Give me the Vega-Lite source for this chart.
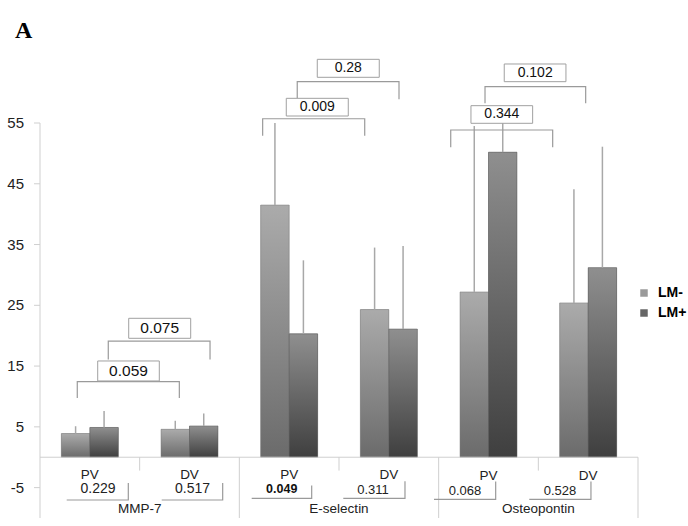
{
  "$schema": "https://vega.github.io/schema/vega-lite/v6.json",
  "width": 598,
  "height": 395,
  "autosize": {"type": "none"},
  "padding": {"left": 40, "top": 123, "right": 50, "bottom": 8},
  "background": "white",
  "config": {"view": {"stroke": null}, "font": "Liberation Sans"},
  "title": {"text": "A", "anchor": "start", "frame": "group", "font": "Liberation Serif", "fontSize": 24, "fontWeight": "bold", "color": "#000000", "dx": -25, "offset": -3, "baseline": "alphabetic"},
  "datasets": {
    "bars": [
      {"cat": "MMP-7 PV", "series": "LM-", "value": 3.9, "err": 5.1},
      {"cat": "MMP-7 PV", "series": "LM+", "value": 4.9, "err": 7.6},
      {"cat": "MMP-7 DV", "series": "LM-", "value": 4.6, "err": 6.0},
      {"cat": "MMP-7 DV", "series": "LM+", "value": 5.15, "err": 7.2},
      {"cat": "E-selectin PV", "series": "LM-", "value": 41.5, "err": 55.0},
      {"cat": "E-selectin PV", "series": "LM+", "value": 20.3, "err": 32.4},
      {"cat": "E-selectin DV", "series": "LM-", "value": 24.3, "err": 34.5},
      {"cat": "E-selectin DV", "series": "LM+", "value": 21.1, "err": 34.75},
      {"cat": "Osteopontin PV", "series": "LM-", "value": 27.2, "err": 54.5},
      {"cat": "Osteopontin PV", "series": "LM+", "value": 50.2, "err": 55.0},
      {"cat": "Osteopontin DV", "series": "LM-", "value": 25.4, "err": 44.1},
      {"cat": "Osteopontin DV", "series": "LM+", "value": 31.2, "err": 51.1}
    ],
    "yticks": [{"v": -5, "label": "-5"}, {"v": 5, "label": "5"}, {"v": 15, "label": "15"}, {"v": 25, "label": "25"}, {"v": 35, "label": "35"}, {"v": 45, "label": "45"}, {"v": 55, "label": "55"}],
    "axislines": [
      {"x": 0, "x2": 0, "y": 55, "y2": -10},
      {"x": 0, "x2": 6, "y": 0, "y2": 0},
      {"x": 1, "x2": 1, "y": 0, "y2": -2.2},
      {"x": 3, "x2": 3, "y": 0, "y2": -2.2},
      {"x": 5, "x2": 5, "y": 0, "y2": -2.2},
      {"x": 2, "x2": 2, "y": 0, "y2": -10},
      {"x": 4, "x2": 4, "y": 0, "y2": -10},
      {"x": 6, "x2": 6, "y": 0, "y2": -10}
    ],
    "catlabels": [
      {"label": "PV", "x": 0.5, "y": -2.9},
      {"label": "DV", "x": 1.5, "y": -2.9},
      {"label": "PV", "x": 2.5, "y": -2.95},
      {"label": "DV", "x": 3.5, "y": -2.95},
      {"label": "PV", "x": 4.5, "y": -3.05},
      {"label": "DV", "x": 5.5, "y": -3.05},
      {"label": "MMP-7", "x": 1, "y": -8.55},
      {"label": "E-selectin", "x": 3, "y": -8.55},
      {"label": "Osteopontin", "x": 5, "y": -8.55}
    ],
    "brackets": [
      {"id": "b059", "o": 1, "x": 0.374, "y": 9.75},
      {"id": "b059", "o": 2, "x": 0.374, "y": 12.45},
      {"id": "b059", "o": 3, "x": 1.398, "y": 12.45},
      {"id": "b059", "o": 4, "x": 1.398, "y": 9.75},
      {"id": "b075", "o": 1, "x": 0.685, "y": 16.1},
      {"id": "b075", "o": 2, "x": 0.685, "y": 19.1},
      {"id": "b075", "o": 3, "x": 1.706, "y": 19.1},
      {"id": "b075", "o": 4, "x": 1.706, "y": 16.1},
      {"id": "b009", "o": 1, "x": 2.234, "y": 52.9},
      {"id": "b009", "o": 2, "x": 2.234, "y": 55.7},
      {"id": "b009", "o": 3, "x": 3.258, "y": 55.7},
      {"id": "b009", "o": 4, "x": 3.258, "y": 52.9},
      {"id": "b028", "o": 1, "x": 2.581, "y": 59.06},
      {"id": "b028", "o": 2, "x": 2.581, "y": 61.8},
      {"id": "b028", "o": 3, "x": 3.602, "y": 61.8},
      {"id": "b028", "o": 4, "x": 3.602, "y": 58.9},
      {"id": "b344", "o": 1, "x": 4.121, "y": 51.0},
      {"id": "b344", "o": 2, "x": 4.121, "y": 53.85},
      {"id": "b344", "o": 3, "x": 5.144, "y": 53.85},
      {"id": "b344", "o": 4, "x": 5.144, "y": 51.0},
      {"id": "b102", "o": 1, "x": 4.465, "y": 58.24},
      {"id": "b102", "o": 2, "x": 4.465, "y": 60.97},
      {"id": "b102", "o": 3, "x": 5.475, "y": 60.97},
      {"id": "b102", "o": 4, "x": 5.475, "y": 58.24},
      {"id": "u229", "o": 1, "x": 0.268, "y": -7.04},
      {"id": "u229", "o": 2, "x": 0.886, "y": -7.04},
      {"id": "u229", "o": 3, "x": 0.886, "y": -4.24},
      {"id": "u517", "o": 1, "x": 1.221, "y": -7.04},
      {"id": "u517", "o": 2, "x": 1.833, "y": -7.04},
      {"id": "u517", "o": 3, "x": 1.833, "y": -4.24},
      {"id": "u049", "o": 1, "x": 2.124, "y": -6.76},
      {"id": "u049", "o": 2, "x": 2.726, "y": -6.76},
      {"id": "u049", "o": 3, "x": 2.726, "y": -4.65},
      {"id": "u311", "o": 1, "x": 3.043, "y": -6.76},
      {"id": "u311", "o": 2, "x": 3.662, "y": -6.76},
      {"id": "u311", "o": 3, "x": 3.662, "y": -3.95},
      {"id": "u068", "o": 1, "x": 3.953, "y": -6.92},
      {"id": "u068", "o": 2, "x": 4.572, "y": -6.92},
      {"id": "u068", "o": 3, "x": 4.572, "y": -4.0},
      {"id": "u528", "o": 1, "x": 4.909, "y": -6.92},
      {"id": "u528", "o": 2, "x": 5.528, "y": -6.92},
      {"id": "u528", "o": 3, "x": 5.528, "y": -4.0}
    ],
    "boxes": [
      {"panel": "MMP-7", "label": "0.059", "x": 0.579, "x2": 1.197, "y": 12.55, "y2": 15.84, "tx": 0.888, "ty": 14.2},
      {"panel": "MMP-7", "label": "0.075", "x": 0.89, "x2": 1.512, "y": 19.57, "y2": 22.86, "tx": 1.201, "ty": 21.2},
      {"panel": "E-selectin", "label": "0.009", "x": 2.471, "x2": 3.093, "y": 56.15, "y2": 59.06, "tx": 2.782, "ty": 57.6},
      {"panel": "E-selectin", "label": "0.28", "x": 2.782, "x2": 3.404, "y": 62.52, "y2": 65.48, "tx": 3.093, "ty": 64.0},
      {"panel": "Osteopontin", "label": "0.344", "x": 4.324, "x2": 4.943, "y": 54.95, "y2": 57.85, "tx": 4.634, "ty": 56.4},
      {"panel": "Osteopontin", "label": "0.102", "x": 4.658, "x2": 5.277, "y": 61.8, "y2": 64.71, "tx": 4.968, "ty": 63.25}
    ],
    "pbottom": [
      {"panel": "MMP-7", "label": "0.229", "p": 0.229, "x": 0.582, "y": -5.3},
      {"panel": "MMP-7", "label": "0.517", "p": 0.517, "x": 1.53, "y": -5.3},
      {"panel": "E-selectin", "label": "0.049", "p": 0.049, "x": 2.425, "y": -5.3},
      {"panel": "E-selectin", "label": "0.311", "p": 0.311, "x": 3.341, "y": -5.45},
      {"panel": "Osteopontin", "label": "0.068", "p": 0.068, "x": 4.264, "y": -5.5},
      {"panel": "Osteopontin", "label": "0.528", "p": 0.528, "x": 5.217, "y": -5.5}
    ]
  },
  "layer": [
    {
      "data": {"name": "bars"},
      "mark": {"type": "bar"},
      "encoding": {
        "x": {"field": "cat", "type": "nominal", "sort": ["MMP-7 PV", "MMP-7 DV", "E-selectin PV", "E-selectin DV", "Osteopontin PV", "Osteopontin DV"], "scale": {"paddingInner": 0, "paddingOuter": 0}, "axis": null},
        "xOffset": {"field": "series", "type": "nominal", "sort": ["LM-", "LM+"], "scale": {"paddingInner": 0, "paddingOuter": 0.75}},
        "y": {"field": "value", "type": "quantitative", "scale": {"domain": [-10, 55], "nice": false, "zero": false}, "axis": null},
        "y2": {"datum": 0},
        "color": {"field": "series", "type": "nominal",
          "scale": {"domain": ["LM-", "LM+"], "range": ["#9a9a9a", "#666666"]},
          "legend": {"orient": "none", "legendX": 597, "legendY": 163, "title": null, "padding": 0, "labelFont": "Liberation Sans", "labelFontWeight": "bold", "labelFontSize": 14, "labelColor": "#000000", "symbolType": "square", "symbolSize": 56, "symbolStrokeWidth": 0, "rowPadding": 6, "labelOffset": 7}}
      }
    },
    {
      "data": {"name": "bars"},
      "transform": [{"filter": "datum.series === 'LM-'"}],
      "mark": {"type": "bar", "stroke": "#7a7a7a", "strokeWidth": 0.5,
        "fill": {"gradient": "linear", "x1": 0, "y1": 0, "x2": 0, "y2": 1, "stops": [{"offset": 0, "color": "#ababab"}, {"offset": 1, "color": "#6b6b6b"}]}},
      "encoding": {
        "x": {"field": "cat", "type": "nominal", "sort": ["MMP-7 PV", "MMP-7 DV", "E-selectin PV", "E-selectin DV", "Osteopontin PV", "Osteopontin DV"], "scale": {"paddingInner": 0, "paddingOuter": 0}, "axis": null},
        "xOffset": {"field": "series", "type": "nominal", "sort": ["LM-", "LM+"], "scale": {"paddingInner": 0, "paddingOuter": 0.75}},
        "y": {"field": "value", "type": "quantitative", "scale": {"domain": [-10, 55], "nice": false, "zero": false}, "axis": null},
        "y2": {"datum": 0}
      }
    },
    {
      "data": {"name": "bars"},
      "transform": [{"filter": "datum.series === 'LM+'"}],
      "mark": {"type": "bar", "stroke": "#5a5a5a", "strokeWidth": 0.5,
        "fill": {"gradient": "linear", "x1": 0, "y1": 0, "x2": 0, "y2": 1, "stops": [{"offset": 0, "color": "#8f8f8f"}, {"offset": 1, "color": "#3f3f3f"}]}},
      "encoding": {
        "x": {"field": "cat", "type": "nominal", "sort": ["MMP-7 PV", "MMP-7 DV", "E-selectin PV", "E-selectin DV", "Osteopontin PV", "Osteopontin DV"], "scale": {"paddingInner": 0, "paddingOuter": 0}, "axis": null},
        "xOffset": {"field": "series", "type": "nominal", "sort": ["LM-", "LM+"], "scale": {"paddingInner": 0, "paddingOuter": 0.75}},
        "y": {"field": "value", "type": "quantitative", "scale": {"domain": [-10, 55], "nice": false, "zero": false}, "axis": null},
        "y2": {"datum": 0}
      }
    },
    {
      "data": {"name": "bars"},
      "mark": {"type": "rule", "color": "#a8a8a8", "strokeWidth": 1.5},
      "encoding": {
        "x": {"field": "cat", "type": "nominal", "sort": ["MMP-7 PV", "MMP-7 DV", "E-selectin PV", "E-selectin DV", "Osteopontin PV", "Osteopontin DV"], "scale": {"paddingInner": 0, "paddingOuter": 0}, "axis": null},
        "xOffset": {"field": "series", "type": "nominal", "sort": ["LM-", "LM+"], "scale": {"paddingInner": 0, "paddingOuter": 0.75}},
        "y": {"field": "value", "type": "quantitative", "scale": {"domain": [-10, 55], "nice": false, "zero": false}, "axis": null},
        "y2": {"field": "err"}
      }
    },
    {
      "data": {"name": "axislines"},
      "mark": {"type": "rule", "color": "#cfcfcf", "strokeWidth": 1},
      "encoding": {
        "x": {"field": "x", "type": "quantitative", "scale": {"domain": [0, 6], "nice": false, "zero": false}, "axis": null},
        "x2": {"field": "x2"},
        "y": {"field": "y", "type": "quantitative", "scale": {"domain": [-10, 55], "nice": false, "zero": false}, "axis": null},
        "y2": {"field": "y2"}
      }
    },
    {
      "data": {"name": "yticks"},
      "mark": {"type": "rule", "color": "#cfcfcf", "strokeWidth": 1},
      "encoding": {
        "x": {"datum": -0.06, "type": "quantitative", "scale": {"domain": [0, 6], "nice": false, "zero": false}, "axis": null},
        "x2": {"datum": 0},
        "y": {"field": "v", "type": "quantitative", "scale": {"domain": [-10, 55], "nice": false, "zero": false}, "axis": null}
      }
    },
    {
      "data": {"name": "yticks"},
      "mark": {"type": "text", "font": "Liberation Sans", "fontSize": 15, "color": "#222222", "align": "right", "baseline": "middle"},
      "encoding": {
        "x": {"datum": -0.16, "type": "quantitative", "scale": {"domain": [0, 6], "nice": false, "zero": false}, "axis": null},
        "y": {"field": "v", "type": "quantitative", "scale": {"domain": [-10, 55], "nice": false, "zero": false}, "axis": null},
        "text": {"field": "label"}
      }
    },
    {
      "data": {"name": "brackets"},
      "mark": {"type": "line", "color": "#9a9a9a", "strokeWidth": 1.2},
      "encoding": {
        "x": {"field": "x", "type": "quantitative", "scale": {"domain": [0, 6], "nice": false, "zero": false}, "axis": null},
        "y": {"field": "y", "type": "quantitative", "scale": {"domain": [-10, 55], "nice": false, "zero": false}, "axis": null},
        "detail": {"field": "id"},
        "order": {"field": "o"}
      }
    },
    {
      "data": {"name": "boxes"},
      "mark": {"type": "rect", "fill": "white", "stroke": "#a0a0a0", "strokeWidth": 1},
      "encoding": {
        "x": {"field": "x", "type": "quantitative", "scale": {"domain": [0, 6], "nice": false, "zero": false}, "axis": null},
        "x2": {"field": "x2"},
        "y": {"field": "y", "type": "quantitative", "scale": {"domain": [-10, 55], "nice": false, "zero": false}, "axis": null},
        "y2": {"field": "y2"}
      }
    },
    {
      "data": {"name": "boxes"},
      "transform": [{"filter": "datum.panel === 'MMP-7'"}],
      "mark": {"type": "text", "font": "Liberation Sans", "fontSize": 15.5, "color": "#111111", "align": "center", "baseline": "middle"},
      "encoding": {
        "x": {"field": "tx", "type": "quantitative", "scale": {"domain": [0, 6], "nice": false, "zero": false}, "axis": null},
        "y": {"field": "ty", "type": "quantitative", "scale": {"domain": [-10, 55], "nice": false, "zero": false}, "axis": null},
        "text": {"field": "label"}
      }
    },
    {
      "data": {"name": "boxes"},
      "transform": [{"filter": "datum.panel !== 'MMP-7'"}],
      "mark": {"type": "text", "font": "Liberation Sans", "fontSize": 14, "color": "#111111", "align": "center", "baseline": "middle"},
      "encoding": {
        "x": {"field": "tx", "type": "quantitative", "scale": {"domain": [0, 6], "nice": false, "zero": false}, "axis": null},
        "y": {"field": "ty", "type": "quantitative", "scale": {"domain": [-10, 55], "nice": false, "zero": false}, "axis": null},
        "text": {"field": "label"}
      }
    },
    {
      "data": {"name": "pbottom"},
      "transform": [{"filter": "datum.panel === 'MMP-7'"}],
      "mark": {"type": "text", "font": "Liberation Sans", "fontSize": 14, "color": "#222222", "align": "center", "baseline": "middle"},
      "encoding": {
        "x": {"field": "x", "type": "quantitative", "scale": {"domain": [0, 6], "nice": false, "zero": false}, "axis": null},
        "y": {"field": "y", "type": "quantitative", "scale": {"domain": [-10, 55], "nice": false, "zero": false}, "axis": null},
        "text": {"field": "label"}
      }
    },
    {
      "data": {"name": "pbottom"},
      "transform": [{"filter": "datum.panel !== 'MMP-7' && datum.p < 0.05"}],
      "mark": {"type": "text", "font": "Liberation Sans", "fontSize": 12.5, "fontWeight": "bold", "color": "#111111", "align": "center", "baseline": "middle"},
      "encoding": {
        "x": {"field": "x", "type": "quantitative", "scale": {"domain": [0, 6], "nice": false, "zero": false}, "axis": null},
        "y": {"field": "y", "type": "quantitative", "scale": {"domain": [-10, 55], "nice": false, "zero": false}, "axis": null},
        "text": {"field": "label"}
      }
    },
    {
      "data": {"name": "pbottom"},
      "transform": [{"filter": "datum.panel !== 'MMP-7' && datum.p >= 0.05"}],
      "mark": {"type": "text", "font": "Liberation Sans", "fontSize": 13, "color": "#222222", "align": "center", "baseline": "middle"},
      "encoding": {
        "x": {"field": "x", "type": "quantitative", "scale": {"domain": [0, 6], "nice": false, "zero": false}, "axis": null},
        "y": {"field": "y", "type": "quantitative", "scale": {"domain": [-10, 55], "nice": false, "zero": false}, "axis": null},
        "text": {"field": "label"}
      }
    },
    {
      "data": {"name": "catlabels"},
      "mark": {"type": "text", "font": "Liberation Sans", "fontSize": 13.5, "color": "#222222", "align": "center", "baseline": "middle"},
      "encoding": {
        "x": {"field": "x", "type": "quantitative", "scale": {"domain": [0, 6], "nice": false, "zero": false}, "axis": null},
        "y": {"field": "y", "type": "quantitative", "scale": {"domain": [-10, 55], "nice": false, "zero": false}, "axis": null},
        "text": {"field": "label"}
      }
    }
  ],
  "resolve": {"scale": {"x": "independent"}}
}
